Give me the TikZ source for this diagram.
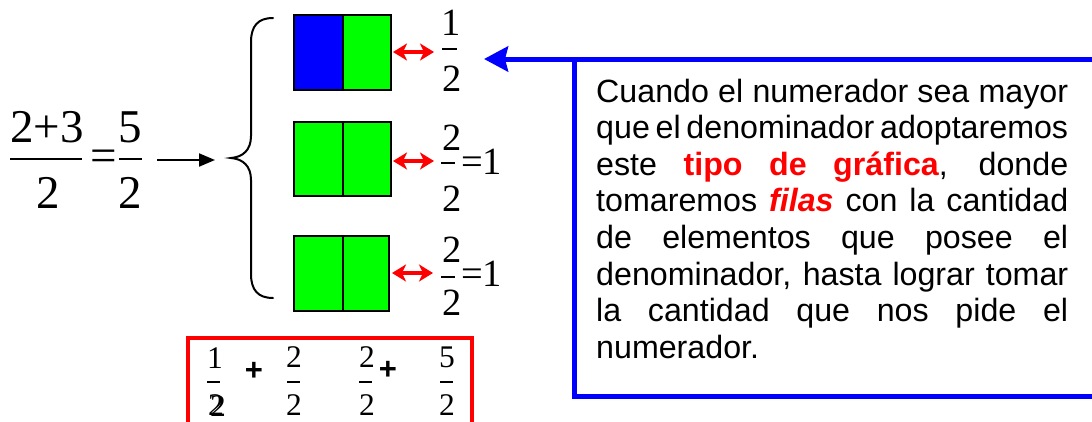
\documentclass[tikz,border=0pt]{standalone}
\usepackage{fontspec}
\setmainfont{Liberation Sans}
\newfontfamily\tms{Liberation Serif}
\usetikzlibrary{arrows.meta}
\definecolor{pgreen}{RGB}{0,255,0}
\definecolor{pblue}{RGB}{0,0,255}
\definecolor{pred}{RGB}{255,0,0}
\newcommand\justline[1]{\hbox to 472pt{\spaceskip=0.278em plus 1fil minus 0.1em #1}}
\tikzset{
  bigd/.style={inner sep=0, anchor=base, font=\tms\fontsize{47}{50}\selectfont},
  midd/.style={inner sep=0, anchor=base, font=\tms\fontsize{38.5}{40}\selectfont},
  smalld/.style={inner sep=0, anchor=base, font=\tms\fontsize{31.5}{34}\selectfont},
  plusd/.style={inner sep=0, anchor=center, font=\bfseries\fontsize{31}{32}\selectfont},
  fbar/.style={line width=2pt},
  sbar/.style={line width=1.4pt},
  cell/.style={draw=black, line width=1.8pt},
  redarr/.style={pred, line width=3.5pt, {Stealth[length=14pt,width=17pt,inset=4pt]}-{Stealth[length=14pt,width=17pt,inset=4pt]}},
}
\begin{document}
\begin{tikzpicture}[x=1pt,y=-1pt]
\useasboundingbox (0,0) rectangle (1092,421);
% big fraction
\node[bigd] (n1) at (47,142) {2+3};
\draw[fbar] (10,159) -- (82,159);
\node[bigd] (d1) at (48.5,208) {2};
\node[bigd] (eq) at (103.5,171) {=};
\node[bigd] (n2) at (130.5,142) {5};
\draw[fbar] (119,159) -- (142,159);
\node[bigd] (d2) at (130.5,208) {2};
% arrow to brace
\coordinate (a0) at (157,160);
\coordinate (a1) at (215,160);
\draw[line width=2pt, -{Triangle[length=16pt,width=13pt]}] (a0) -- (a1);
% brace
\draw[line width=2pt, line cap=round] (273,18) .. controls (258,18) and (251,26) .. (251,42)
  -- (251,136) .. controls (251,150) and (243,157) .. (231,158)
  .. controls (243,159) and (251,166) .. (251,180)
  -- (251,274) .. controls (251,290) and (258,298) .. (273,298);
% boxes
\fill[pblue] (294,15) rectangle (343,90);
\fill[pgreen] (343,15) rectangle (391,90);
\draw[cell] (294,15) rectangle (391,90) (343,15) -- (343,90);
\fill[pgreen] (294,122) rectangle (391,196);
\draw[cell] (294,122) rectangle (391,196) (343,122) -- (343,196);
\fill[pgreen] (294,236) rectangle (389,311);
\draw[cell] (294,236) rectangle (389,311) (343,236) -- (343,311);
% red double arrows
\coordinate (r1a) at (393,52); \coordinate (r1b) at (434,52);
\coordinate (r2a) at (393,161); \coordinate (r2b) at (434,161);
\coordinate (r3a) at (392,273); \coordinate (r3b) at (433,273);
\draw[redarr] (r1a) -- (r1b);
\draw[redarr] (r2a) -- (r2b);
\draw[redarr] (r3a) -- (r3b);
% fractions next to boxes
\node[midd] (f1n) at (451,35) {1};
\draw[sbar] (442,49) -- (457,49);
\node[midd] (f1d) at (452,91) {2};
\node[midd] (f2n) at (452,150) {2};
\draw[sbar] (441,163) -- (455,163);
\node[midd, anchor=base west] (f2e) at (461,174) {=1};
\node[midd] (f2d) at (452,211) {2};
\node[midd] (f3n) at (452,262) {2};
\draw[sbar] (441,277) -- (455,277);
\node[midd, anchor=base west] (f3e) at (461,286) {=1};
\node[midd] (f3d) at (452,315) {2};
% red box
\draw[pred, line width=4pt] (188,430) -- (188,338) -- (472,338) -- (472,430);
\node[smalld] (s1n) at (215,368) {1};
\draw[sbar] (207,382) -- (220,382);
\node[smalld] (s1d) at (216,415) {2};
\node[smalld] (s1d2) at (218,416) {2};
\node[plusd] (p1) at (254,371) {+};
\node[smalld] (s2n) at (294,367) {2};
\draw[sbar] (287,382) -- (300,382);
\node[smalld] (s2d) at (294,415) {2};
\node[smalld] (s3n) at (367,367) {2};
\node[plusd] (p2) at (388,370) {+};
\draw[sbar] (359,382) -- (372,382);
\node[smalld] (s3d) at (367,415) {2};
\node[smalld] (s4n) at (447,367) {5};
\draw[sbar] (440,382) -- (453,382);
\node[smalld] (s4d) at (447,415) {2};
% blue box and arrow
\coordinate (bc) at (574,59);
\coordinate (btip) at (484,59);
\draw[pblue, line width=5pt] (1100,59) -- (bc) -- (574,396) -- (1100,396);
\draw[pblue, line width=5pt, -{Stealth[length=24pt,width=25pt,inset=3pt]}] (bc) -- (btip);
\node[inner sep=0, anchor=base west] (txt) at (596,102) {\parbox[t]{472pt}{\fontsize{32.2}{36.6}\selectfont
\justline{Cuando el numerador sea mayor}
\justline{que el denominador adoptaremos}
\justline{este {\bfseries\color{pred}tipo de gráfica}, donde}
\justline{tomaremos {\bfseries\itshape\color{pred}filas} con la cantidad}
\justline{de elementos que posee el}
\justline{denominador, hasta lograr tomar}
\justline{la cantidad que nos pide el}
\hbox{numerador.}}};
\end{tikzpicture}
\end{document}
